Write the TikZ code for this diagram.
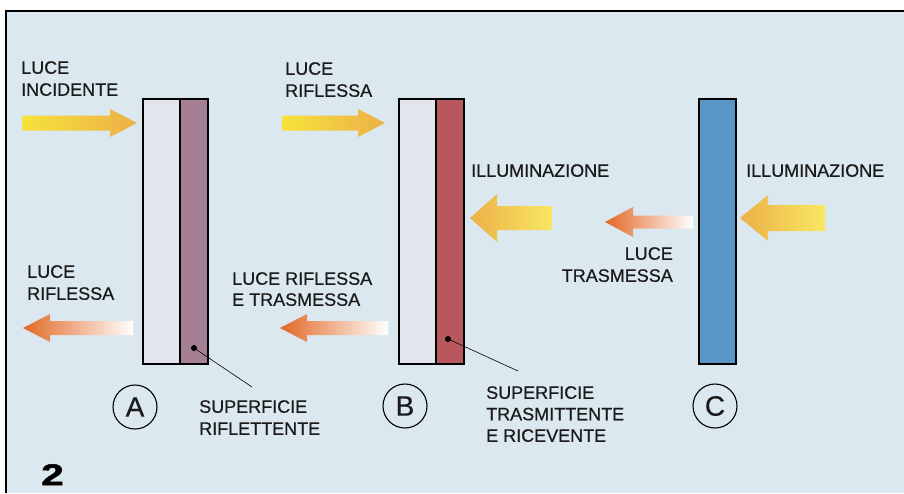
\documentclass[tikz,border=0pt]{standalone}
\usepackage{fontspec}
\setmainfont{Liberation Sans}
\newfontfamily\labelfont{Liberation Sans}[FakeBold=0.5]
\newfontfamily\numfont{Liberation Sans Bold}[FakeBold=1.5]
\usepackage{tikz}
\usetikzlibrary{positioning,calc}
\definecolor{bgblue}    {RGB}{220,232,239}
\definecolor{glassgray} {RGB}{226,229,236}
\definecolor{mauve}     {RGB}{165,127,148}
\definecolor{brick}     {RGB}{184,88,92}
\definecolor{steel}     {RGB}{88,150,200}
\definecolor{beamyellow}{RGB}{246,226,58}
\definecolor{beamgold}  {RGB}{236,176,72}
\definecolor{beamorange}{RGB}{226,104,38}
\definecolor{inkblack}  {RGB}{26,26,26}
% fat light beam: style, tip x, head base x, tail x, y, shaft half, head half
\newcommand{\beam}[7]{%
  \shade[#1] (#2,#5) -- (#3,#5-#7) -- (#3,#5-#6) -- (#4,#5-#6)
    -- (#4,#5+#6) -- (#3,#5+#6) -- (#3,#5+#7) -- cycle;}

\begin{document}
\begin{tikzpicture}[
  x=1pt,y=-1pt,
  txt/.style={font=\labelfont\fontsize{18}{22}\selectfont,text=inkblack,
              inner sep=0pt,anchor=north west,align=left},
  part/.style={draw=black,line width=1.6pt,inner sep=0pt,anchor=north west,
               minimum height=265pt},
  glass/.style={part,fill=glassgray,minimum width=37pt},
  letter/.style={draw=black,circle,line width=1.1pt,minimum size=44pt,
                 inner sep=0pt,font=\labelfont\fontsize{28}{28}\selectfont,
                 text=inkblack},
  yin/.style={left color=beamyellow,right color=beamgold},
  yout/.style={left color=beamgold,right color=beamyellow!80!white},
  oout/.style={left color=beamorange,right color=white},
  lead/.style={black,line width=0.6pt},
]

%% ── Background and frame ───────────────────────────────────────────────────
\useasboundingbox (0,0) rectangle (904,493);
\fill[white] (0,0) rectangle (904,493);
\fill[bgblue] (6,11) rectangle (904,493);
\draw[black,line width=1.8pt] (904,11) -- (6,11) -- (6,493);

%% ── Panel A: glass + reflecting surface ────────────────────────────────────
\node[glass] (Ag) at (142,98) {};
\node[part,fill=mauve,minimum width=28pt] (As) at (179,98) {};
\node[letter] (Acirc) at (135,407) {A};

%% ── Panel B: glass + transmitting/receiving surface ───────────────────────
\node[glass] (Bg) at (398,98) {};
\node[part,fill=brick,minimum width=28pt] (Bs) at (435,98) {};
\node[letter] (Bcirc) at (405,406) {B};

%% ── Panel C: transmitting layer ───────────────────────────────────────────
\node[part,fill=steel,minimum width=37pt] (Cs) at (698,98) {};
\node[letter] (Ccirc) at (715,406) {C};

%% ── Light beams ────────────────────────────────────────────────────────────
\beam{yin}{137}{110}{22}{123}{7.5}{14}
\beam{yin}{385}{358}{282}{123}{7.5}{14}
\beam{yout}{470}{497}{552}{218}{12}{24}
\beam{yout}{740}{768}{825}{218}{13}{23}
\beam{oout}{605}{633}{693}{222}{6.5}{15}
\beam{oout}{23}{50}{133}{328}{7}{14}
\beam{oout}{280}{307}{388}{328}{7}{14}

%% ── Labels ─────────────────────────────────────────────────────────────────
\node[txt] (incid) at (21,61) {LUCE\\INCIDENTE};
\node[txt] (riflB) at (285,62) {LUCE\\RIFLESSA};
\node[txt] (illumB) at (471,164) {ILLUMINAZIONE};
\node[txt] (illumC) at (746,164) {ILLUMINAZIONE};
\node[txt,anchor=north east,align=right] (trasm) at (673,247) {LUCE\\TRASMESSA};
\node[txt] (riflA) at (27,265) {LUCE\\RIFLESSA};
\node[txt,font=\labelfont\fontsize{18}{21}\selectfont] (riftr) at (232,272)
  {LUCE RIFLESSA\\E TRASMESSA};
\node[txt] (supA) at (199,400) {SUPERFICIE\\RIFLETTENTE};
\node[txt,font=\labelfont\fontsize{18}{21.5}\selectfont] (supB) at (486,386)
  {SUPERFICIE\\TRASMITTENTE\\E RICEVENTE};

%% ── Leader lines to the surfaces ──────────────────────────────────────────
\node[circle,fill=black,inner sep=0pt,minimum size=6pt] (dotA) at (194,348) {};
\node[circle,fill=black,inner sep=0pt,minimum size=6pt] (dotB) at (448,339) {};
\coordinate (leadA) at (252,387);
\coordinate (leadB) at (518,371);
\draw[lead] (dotA.center) -- (leadA);
\draw[lead] (dotB.center) -- (leadB);

%% ── Figure number ─────────────────────────────────────────────────────────
\node[txt,font=\numfont\fontsize{30}{30}\selectfont,xscale=1.35,text=black]
  (fignum) at (41,464) {2};

\end{tikzpicture}
\end{document}
